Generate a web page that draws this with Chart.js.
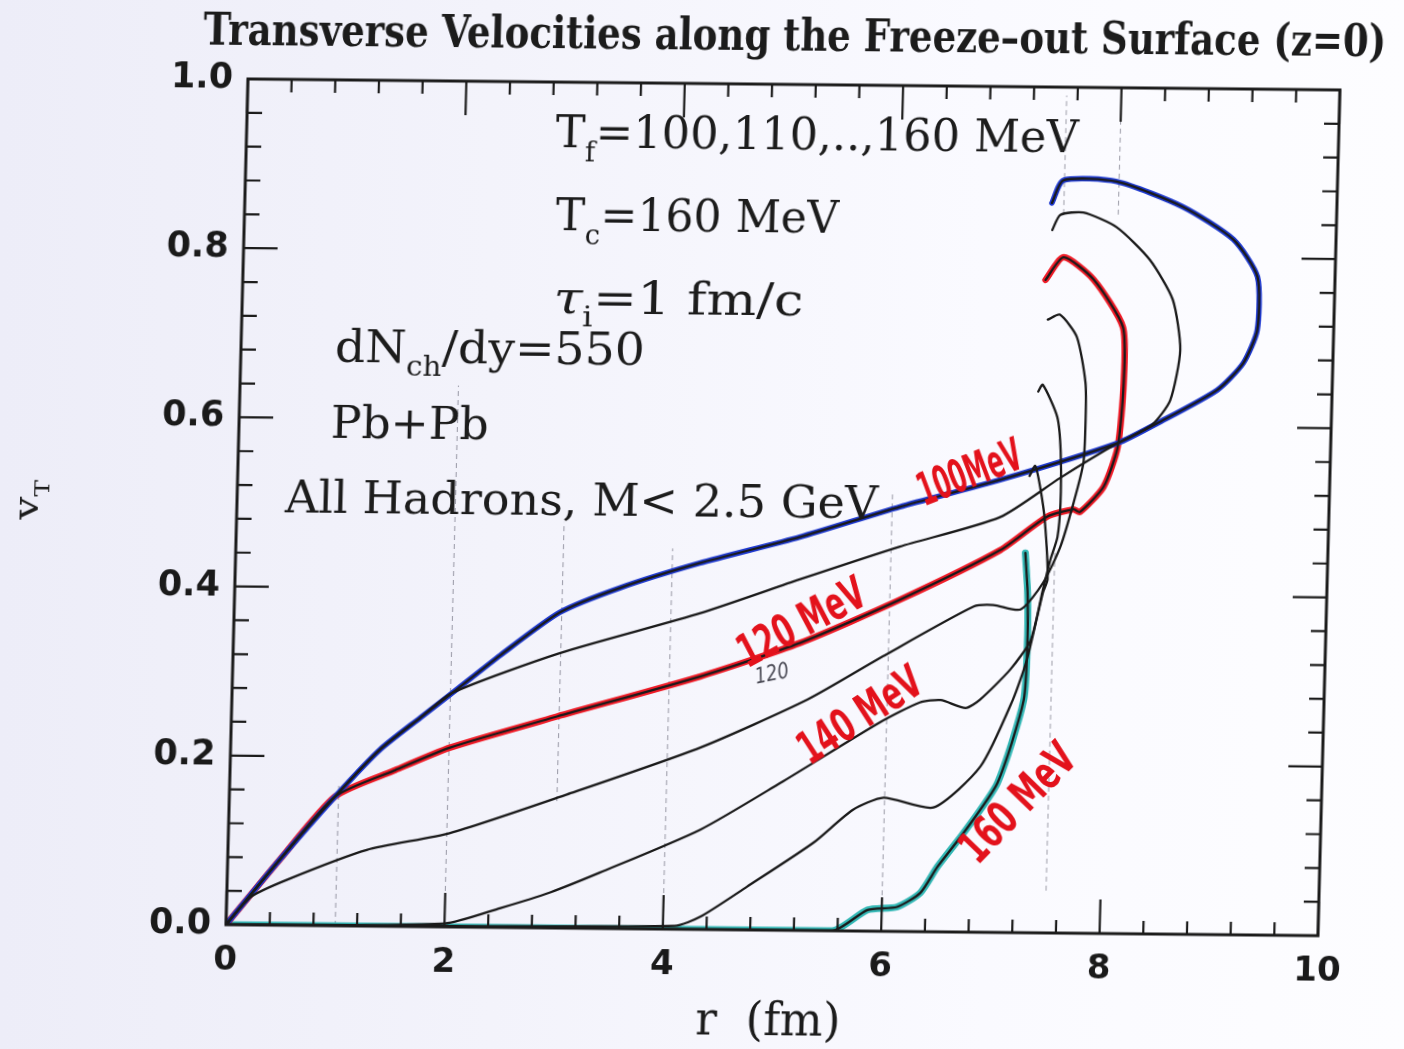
<!DOCTYPE html>
<html>
<head>
<meta charset="utf-8">
<script src="https://cdn.jsdelivr.net/npm/chart.js@4.4.0/dist/chart.umd.min.js"></script>
<style>
  html, body { margin: 0; padding: 0; }
  body {
    width: 1404px; height: 1049px; overflow: hidden;
    background: linear-gradient(90deg, #ededf8 0%, #f3f3fb 35%, #fafaff 70%, #fdfdff 100%);
  }
  /* the printed figure sits slightly sheared on the page */
  #vt { display: block; transform-origin: 0 0; transform: matrix(1, 0.01007, -0.026, 1, 24.05, -2.28); }
</style>
</head>
<body>
<canvas id="vt" width="1404" height="1049"></canvas>
<script>
// v_T(r) along the freeze-out surface, one curve per freeze-out temperature
const temps = [100, 110, 120, 130, 140, 150, 160];

const r100 = [0, 0.48, 0.97, 1.37, 1.73, 2.02, 2.45, 2.98, 3.53, 4.25, 5.16, 6.07, 6.98, 8.05, 8.41, 8.95, 9.18, 9.30, 9.29, 9.06, 8.59, 7.98, 7.49, 7.39];
const v100 = [0, 0.078, 0.153, 0.209, 0.247, 0.277, 0.322, 0.373, 0.403, 0.433, 0.465, 0.502, 0.535, 0.580, 0.604, 0.644, 0.676, 0.715, 0.778, 0.822, 0.860, 0.889, 0.890, 0.863];

const r110 = [0, 0.48, 0.97, 1.37, 1.73, 2.02, 2.99, 4.27, 5.17, 6.08, 6.99, 7.53, 8.05, 8.36, 8.52, 8.60, 8.52, 8.30, 7.99, 7.68, 7.47, 7.40];
const v110 = [0, 0.078, 0.153, 0.209, 0.247, 0.277, 0.325, 0.374, 0.415, 0.455, 0.491, 0.538, 0.580, 0.602, 0.631, 0.691, 0.750, 0.797, 0.835, 0.852, 0.849, 0.831];

const r120 = [0, 0.48, 0.97, 1.50, 2.01, 2.98, 4.28, 5.19, 6.09, 7.00, 7.42, 7.66, 7.72, 7.93, 8.05, 8.09, 8.07, 7.79, 7.51, 7.35];
const v120 = [0, 0.078, 0.153, 0.184, 0.212, 0.250, 0.299, 0.340, 0.392, 0.452, 0.492, 0.501, 0.498, 0.528, 0.575, 0.651, 0.717, 0.773, 0.799, 0.772];

const r130 = [0, 0.22, 0.55, 1.27, 2.03, 3.09, 4.30, 5.27, 5.95, 6.77, 6.95, 7.20, 7.40, 7.55, 7.66, 7.74, 7.75, 7.74, 7.65, 7.49, 7.38];
const v130 = [0, 0.033, 0.054, 0.090, 0.111, 0.158, 0.215, 0.273, 0.325, 0.385, 0.387, 0.382, 0.414, 0.457, 0.509, 0.556, 0.607, 0.651, 0.705, 0.731, 0.725];

const r140 = [0, 2.0, 2.51, 2.96, 3.41, 4.32, 5.04, 5.94, 6.30, 6.49, 6.72, 6.85, 7.12, 7.30, 7.40, 7.46, 7.52, 7.54, 7.53, 7.49, 7.35, 7.31];
const v140 = [0, 0.004, 0.023, 0.042, 0.066, 0.118, 0.174, 0.247, 0.271, 0.274, 0.265, 0.275, 0.311, 0.346, 0.406, 0.441, 0.468, 0.509, 0.568, 0.610, 0.648, 0.640];

const r150 = [0, 4.11, 4.34, 4.76, 5.36, 5.71, 5.99, 6.45, 6.87, 7.15, 7.27, 7.40, 7.44, 7.40, 7.35, 7.30, 7.25];
const v150 = [0, 0.004, 0.015, 0.051, 0.104, 0.143, 0.158, 0.147, 0.196, 0.275, 0.323, 0.402, 0.418, 0.488, 0.527, 0.552, 0.540];

const r160 = [0, 5.55, 5.87, 6.14, 6.35, 6.50, 6.73, 7.03, 7.25, 7.27, 7.26, 7.23];
const v160 = [0, 0.0, 0.025, 0.029, 0.046, 0.077, 0.117, 0.177, 0.275, 0.346, 0.402, 0.449];

// marker-pen highlights drawn under three of the curves
const highlightTemps = [100, 120, 160];
const highlightColors = ['#1f3ad0', '#ef1b27', '#34b8b6'];
const highlightWidths = [5.5, 6.5, 7];

// axis ticks
const xTicks = [0, 2, 4, 6, 8, 10];
const yTicks = [0, 0.2, 0.4, 0.6, 0.8, 1.0];

// faint pencil guide lines: r position and vertical extent
const guideR  = [1, 2, 3, 4, 6, 7.5, 7.5, 8];
const guideLo = [0, 0, 0.15, 0, 0, 0.05, 0.85, 0.85];
const guideHi = [0.17, 0.64, 0.48, 0.45, 0.52, 0.45, 0.99, 0.99];

// hand-written curve labels: text, r, vT, angle (deg)
const penText  = ['100MeV', '120 MeV', '140 MeV', '160 MeV'];
const penR     = [6.71, 5.21, 5.77, 7.24];
const penV     = [0.540, 0.361, 0.252, 0.151];
const penAngle = [-22, -29, -34, -47];
const penWidth = [108, 138, 138, 145];

const curveR = [r100, r110, r120, r130, r140, r150, r160];
const curveV = [v100, v110, v120, v130, v140, v150, v160];
const toPts = (rs, vs) => rs.map((r, i) => ({ x: r, y: vs[i] }));

const datasets = [];
temps.forEach((t, i) => {
  datasets.push({
    label: t + ' MeV',
    data: toPts(curveR[i], curveV[i]),
    showLine: true,
    borderColor: '#1a1a1a',
    borderWidth: 2.3,
    order: 1
  });
});
highlightTemps.forEach((t, k) => {
  const i = temps.indexOf(t);
  datasets.push({
    label: t + ' MeV pen',
    data: toPts(curveR[i], curveV[i]),
    showLine: true,
    borderColor: highlightColors[k],
    borderWidth: highlightWidths[k],
    order: 2
  });
});

// text made of runs: [string, kind] where kind is '', 'sub' or 'it'
function drawRuns(ctx, runs, x, y, size, width, family, weight) {
  const w = weight ? weight + ' ' : '';
  const fontFor = k => (k === 'it' ? 'italic ' : '') + w + Math.round(k === 'sub' ? size * 0.62 : size) + 'px ' + family;
  let natural = 0;
  runs.forEach(([t, k]) => { ctx.font = fontFor(k); natural += ctx.measureText(t).width; });
  const sx = width ? width / natural : 1;
  ctx.save();
  ctx.translate(x, y);
  ctx.scale(sx, 1);
  let cx = 0;
  runs.forEach(([t, k]) => {
    ctx.font = fontFor(k);
    ctx.fillText(t, cx, k === 'sub' ? size * 0.3 : 0);
    cx += ctx.measureText(t).width;
  });
  ctx.restore();
}

const SERIF = '"DejaVu Serif", "Liberation Serif", serif';
const PEN = '"Liberation Sans Narrow", "DejaVu Sans Condensed", sans-serif';
const MAJOR = 34, MINOR = 13;

const decor = {
  id: 'decor',
  beforeDatasetsDraw(chart) {
    const { ctx, scales: { x, y } } = chart;
    ctx.save();
    ctx.strokeStyle = 'rgba(40,40,60,0.45)';
    ctx.lineWidth = 1;
    ctx.setLineDash([5, 4]);
    guideR.forEach((r, i) => {
      ctx.beginPath();
      ctx.moveTo(x.getPixelForValue(r), y.getPixelForValue(guideLo[i]));
      ctx.lineTo(x.getPixelForValue(r), y.getPixelForValue(guideHi[i]));
      ctx.stroke();
    });
    ctx.restore();
  },
  afterDatasetsDraw(chart) {
    const { ctx, chartArea: a, scales: { x, y } } = chart;
    const P = (r, v) => [x.getPixelForValue(r), y.getPixelForValue(v)];
    ctx.save();

    // frame with inward ticks on all four sides
    ctx.strokeStyle = '#1b1b1b';
    ctx.lineWidth = 3;
    ctx.strokeRect(a.left, a.top, a.right - a.left, a.bottom - a.top);
    ctx.lineWidth = 2.2;
    ctx.beginPath();
    for (let i = 0; i <= 25; i++) {
      const px = x.getPixelForValue(i * 0.4);
      const len = i % 5 === 0 ? MAJOR : MINOR;
      ctx.moveTo(px, a.bottom); ctx.lineTo(px, a.bottom - len);
      ctx.moveTo(px, a.top); ctx.lineTo(px, a.top + len);
    }
    for (let i = 0; i <= 25; i++) {
      const py = y.getPixelForValue(i * 0.04);
      const len = i % 5 === 0 ? MAJOR : MINOR + 2;
      ctx.moveTo(a.left, py); ctx.lineTo(a.left + len, py);
      ctx.moveTo(a.right, py); ctx.lineTo(a.right - len, py);
    }
    ctx.stroke();

    ctx.fillStyle = '#1c1c1c';
    ctx.textBaseline = 'alphabetic';
    ctx.textAlign = 'left';

    // title and axis titles
    let p = P(-0.42, 1.040);
    drawRuns(ctx, [['Transverse Velocities along the Freeze\u2013out Surface (z=0)', '']], p[0], p[1], 45, 1183, SERIF, 'bold');
    p = P(4.32, -0.124);
    drawRuns(ctx, [['r  (fm)', '']], p[0], p[1], 46, 145, SERIF);
    p = P(-1.91, 0.50);
    ctx.save();
    ctx.translate(p[0] + 10, p[1] + 20);
    ctx.rotate(-Math.PI / 2);
    drawRuns(ctx, [['v', ''], ['T', 'sub']], 0, 0, 34, 40, SERIF);
    ctx.restore();

    // run parameters
    p = P(2.83, 0.923);
    drawRuns(ctx, [['T', ''], ['f', 'sub'], ['=100,110,..,160 MeV', '']], p[0], p[1], 45, 523, SERIF);
    p = P(2.85, 0.825);
    drawRuns(ctx, [['T', ''], ['c', 'sub'], ['=160 MeV', '']], p[0], p[1], 45, 283, SERIF);
    p = P(2.85, 0.727);
    drawRuns(ctx, [['\u03c4', 'it'], ['i', 'sub'], ['=1 fm/c', '']], p[0], p[1], 45, 250, SERIF);
    p = P(0.86, 0.667);
    drawRuns(ctx, [['dN', ''], ['ch', 'sub'], ['/dy=550', '']], p[0], p[1], 45, 310, SERIF);
    p = P(0.84, 0.577);
    drawRuns(ctx, [['Pb+Pb', '']], p[0], p[1], 45, 158, SERIF);
    p = P(0.44, 0.488);
    drawRuns(ctx, [['All Hadrons, M< 2.5 GeV', '']], p[0], p[1], 45, 593, SERIF);

    // hand-written labels on the curves
    ctx.fillStyle = '#e3121c';
    ctx.textBaseline = 'middle';
    penText.forEach((t, i) => {
      const q = P(penR[i], penV[i]);
      ctx.save();
      ctx.translate(q[0], q[1]);
      ctx.rotate(penAngle[i] * Math.PI / 180);
      drawRuns(ctx, [[t, '']], -penWidth[i] / 2, 0, 46, penWidth[i], PEN, 'bold');
      ctx.restore();
    });
    ctx.fillStyle = '#4a4a55';
    const q = P(4.94, 0.302);
    ctx.save();
    ctx.translate(q[0], q[1]);
    ctx.rotate(-12 * Math.PI / 180);
    drawRuns(ctx, [['120', 'it']], -17, 0, 22, 34, PEN);
    ctx.restore();

    ctx.restore();
  }
};

new Chart(document.getElementById('vt'), {
  type: 'scatter',
  data: { datasets },
  options: {
    responsive: false,
    animation: false,
    devicePixelRatio: 1,
    layout: { padding: { left: 126, right: 86, top: 79, bottom: 64 } },
    plugins: {
      legend: { display: false },
      tooltip: { enabled: false },
      title: { display: false }
    },
    elements: {
      point: { radius: 0, hoverRadius: 0 },
      line: { tension: 0.22, borderCapStyle: 'round', borderJoinStyle: 'round' }
    },
    scales: {
      x: {
        type: 'linear', min: 0, max: 10,
        grid: { display: false, drawTicks: false },
        border: { display: false },
        afterBuildTicks: s => { s.ticks = xTicks.map(v => ({ value: v })); },
        ticks: {
          padding: 16, maxRotation: 0, autoSkip: false,
          color: '#1a1a1a',
          font: { family: '"DejaVu Sans", sans-serif', size: 34, weight: '600' },
          callback: v => String(v)
        },
        afterFit: s => { s.height = 60; }
      },
      y: {
        type: 'linear', min: 0, max: 1,
        grid: { display: false, drawTicks: false },
        border: { display: false },
        afterBuildTicks: s => { s.ticks = yTicks.map(v => ({ value: v })); },
        ticks: {
          padding: 15, autoSkip: false,
          color: '#1a1a1a',
          font: { family: '"DejaVu Sans", sans-serif', size: 35, weight: '600' },
          callback: v => v.toFixed(1)
        },
        afterFit: s => { s.width = 100; }
      }
    }
  },
  plugins: [decor]
});
</script>
</body>
</html>
